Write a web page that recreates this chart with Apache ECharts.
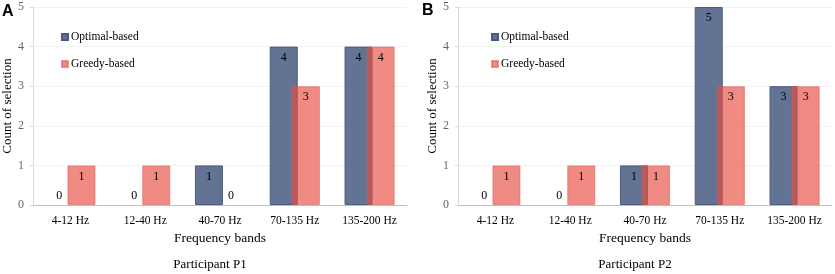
<!DOCTYPE html>
<html>
<head>
<meta charset="utf-8">
<script src="https://cdn.jsdelivr.net/npm/echarts@6/dist/echarts.min.js"></script>
<style>
  html, body { margin: 0; padding: 0; background: #fff; }
  #chart { width: 835px; height: 274px; }
</style>
</head>
<body>
<div id="chart"></div>
<script>
// frequency bands on the x axis
const bands = ['4-12 Hz', '12-40 Hz', '40-70 Hz', '70-135 Hz', '135-200 Hz'];
const yTicks = [0, 1, 2, 3, 4, 5];

// participant P1
const p1Optimal = [0, 0, 1, 4, 4];
const p1Greedy = [1, 1, 0, 3, 4];
// participant P2
const p2Optimal = [0, 0, 1, 5, 3];
const p2Greedy = [1, 1, 1, 3, 3];

const serif = '"Liberation Serif", "Times New Roman", serif';
const blue = '#627394';
const red = 'rgba(230,77,63,0.65)';

// zero bars get their label above the axis, the rest inside the top
function withLabels(values) {
    return values.map(v => ({
        value: v,
        itemStyle: v === 0 ? { borderWidth: 0 } : undefined,
        label: { position: v === 0 ? 'top' : 'insideTop', distance: v === 0 ? 3 : 5 }
    }));
}

function makeSeries(name, values, idx, color, border) {
    return {
        name: name,
        type: 'bar',
        xAxisIndex: idx,
        yAxisIndex: idx,
        barWidth: 28,
        barGap: '-21%',
        data: withLabels(values),
        itemStyle: { color: color, borderColor: border, borderWidth: 1 },
        label: { show: true, color: '#000', fontFamily: serif, fontSize: 12 },
        emphasis: { disabled: true }
    };
}

function xAxis(idx) {
    return {
        type: 'category',
        gridIndex: idx,
        data: bands,
        name: 'Frequency bands',
        nameLocation: 'middle',
        nameGap: 23,
        nameTextStyle: { fontFamily: serif, fontSize: 13.5, color: '#000' },
        axisLine: { lineStyle: { color: '#bfbfbf' } },
        axisTick: { show: false },
        axisLabel: { fontFamily: serif, fontSize: 11.5, color: '#000', margin: 10 }
    };
}

function yAxis(idx) {
    return {
        type: 'value',
        gridIndex: idx,
        min: yTicks[0],
        max: yTicks[yTicks.length - 1],
        interval: 1,
        name: 'Count of selection',
        nameLocation: 'middle',
        nameGap: 19,
        nameTextStyle: { fontFamily: serif, fontSize: 13, color: '#000' },
        axisLine: { show: true, lineStyle: { color: '#d9d9d9' } },
        axisTick: { show: true, length: 3, lineStyle: { color: '#d9d9d9' } },
        axisLabel: { fontFamily: serif, fontSize: 12, color: '#666', margin: 9 },
        splitLine: { lineStyle: { color: '#f2f2f2' } }
    };
}

const legendStyle = {
    orient: 'vertical',
    itemWidth: 6,
    itemHeight: 6,
    itemGap: 15,
    icon: 'rect',
    textStyle: { fontFamily: serif, fontSize: 11.5, color: '#000', padding: [0, 0, 0, -2] }
};

const chart = echarts.init(document.getElementById('chart'), null, { renderer: 'canvas' });
chart.setOption({
    animation: false,
    grid: [
        { left: 33, top: 7, right: 428, bottom: 69 },
        { left: 458, top: 7, right: 3, bottom: 69 }
    ],
    xAxis: [xAxis(0), xAxis(1)],
    yAxis: [yAxis(0), yAxis(1)],
    legend: [
        Object.assign({ left: 56, top: 26, data: ['Optimal-based', 'Greedy-based'] }, legendStyle),
        Object.assign({ left: 486, top: 26, data: ['Optimal-based ', 'Greedy-based '] }, legendStyle)
    ],
    title: [
        { text: 'A', left: 2, top: 4, padding: 0, textStyle: { fontFamily: 'Liberation Sans', fontWeight: 'bold', fontSize: 16, color: '#000' } },
        { text: 'B', left: 422, top: 3, padding: 0, textStyle: { fontFamily: 'Liberation Sans', fontWeight: 'bold', fontSize: 16, color: '#000' } },
        { text: 'Participant P1', left: 210, top: 258, textAlign: 'center', padding: 0, textStyle: { fontFamily: serif, fontSize: 13, fontWeight: 'normal', color: '#000' } },
        { text: 'Participant P2', left: 635, top: 258, textAlign: 'center', padding: 0, textStyle: { fontFamily: serif, fontSize: 13, fontWeight: 'normal', color: '#000' } }
    ],
    series: [
        makeSeries('Optimal-based', p1Optimal, 0, blue, '#4a5b80'),
        makeSeries('Greedy-based', p1Greedy, 0, red, 'rgba(224,90,85,0.6)'),
        makeSeries('Optimal-based ', p2Optimal, 1, blue, '#4a5b80'),
        makeSeries('Greedy-based ', p2Greedy, 1, red, 'rgba(224,90,85,0.6)')
    ]
});
</script>
</body>
</html>
